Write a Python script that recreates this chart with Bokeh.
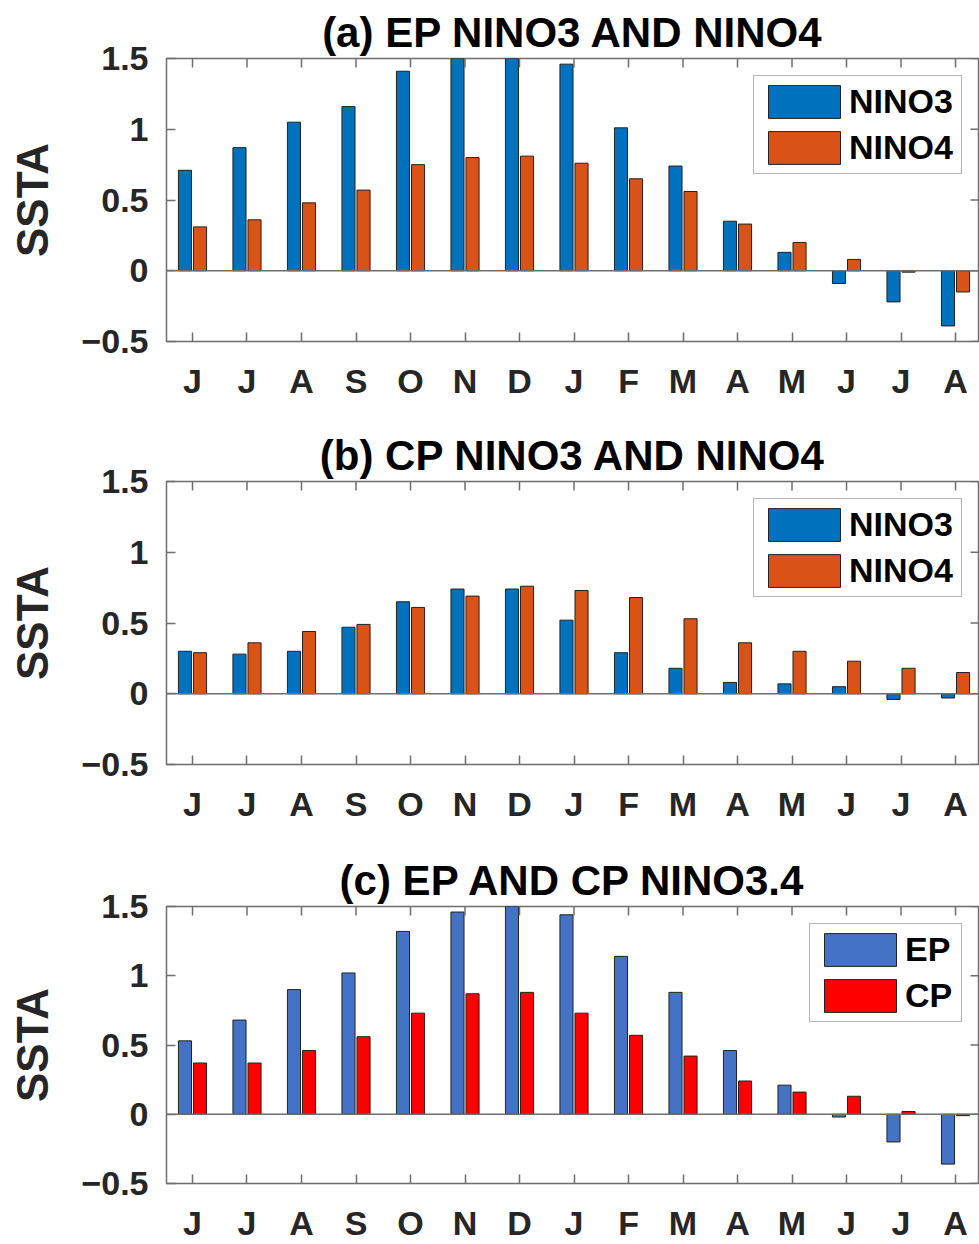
from bokeh.plotting import figure
from bokeh.models import Range1d, FixedTicker, Span
from bokeh.layouts import column
from bokeh.embed import file_html
from bokeh.resources import INLINE
import numpy as np

months = ["J", "J", "A", "S", "O", "N", "D", "J", "F", "M", "A", "M", "J", "J", "A"]
y_ticks = [-0.5, 0, 0.5, 1, 1.5]
y_tick_labels = ["\u22120.5", "0", "0.5", "1", "1.5"]

# (a) EP composite
ep_nino3 = [0.71, 0.87, 1.05, 1.16, 1.41, 1.53, 1.55, 1.46, 1.01, 0.74, 0.35, 0.13, -0.09, -0.22, -0.39]
ep_nino4 = [0.31, 0.36, 0.48, 0.57, 0.75, 0.80, 0.81, 0.76, 0.65, 0.56, 0.33, 0.20, 0.08, -0.01, -0.15]
# (b) CP composite
cp_nino3 = [0.30, 0.28, 0.30, 0.47, 0.65, 0.74, 0.74, 0.52, 0.29, 0.18, 0.08, 0.07, 0.05, -0.04, -0.03]
cp_nino4 = [0.29, 0.36, 0.44, 0.49, 0.61, 0.69, 0.76, 0.73, 0.68, 0.53, 0.36, 0.30, 0.23, 0.18, 0.15]
# (c) NINO3.4
ep_nino34 = [0.53, 0.68, 0.90, 1.02, 1.32, 1.46, 1.53, 1.44, 1.14, 0.88, 0.46, 0.21, -0.02, -0.20, -0.36]
cp_nino34 = [0.37, 0.37, 0.46, 0.56, 0.73, 0.87, 0.88, 0.73, 0.57, 0.42, 0.24, 0.16, 0.13, 0.02, -0.01]

FONT = "Liberation Sans"
AX = "#6e6e6e"
TXT = "#262626"
X_LIM = (0.523, 15.44)


def make_panel(title, s1, s2, names, colors, height, top, bottom, label_w):
    x = np.arange(1, len(months) + 1)
    p = figure(width=979, height=height, x_range=Range1d(*X_LIM),
               y_range=Range1d(min(y_ticks), max(y_ticks)),
               output_backend="svg", toolbar_location=None,
               min_border_left=166, min_border_right=0, min_border_top=top, min_border_bottom=bottom,
               title=title)
    p.title.text_font = FONT
    p.title.text_font_size = "42px"
    p.title.text_font_style = "bold"
    p.title.text_color = "black"
    p.title.align = "center"
    p.title.standoff = 6
    p.xgrid.visible = False
    p.ygrid.visible = False
    p.outline_line_color = AX
    p.outline_line_width = 1.5
    p.background_fill_color = "white"
    p.border_fill_color = "white"

    p.add_layout(Span(location=0, dimension="width", line_color=AX, line_width=1.5))

    p.vbar(x=x - 0.138, top=s1, width=0.24, bottom=0, fill_color=colors[0], line_color="#222222",
           line_width=1, legend_label=names[0])
    p.vbar(x=x + 0.138, top=s2, width=0.24, bottom=0, fill_color=colors[1], line_color="#222222",
           line_width=1, legend_label=names[1])

    # inward ticks on the top and right sides of the box
    p.ray(x=x, y=max(y_ticks), length=9, length_units="screen", angle=-np.pi / 2,
          line_color=AX, line_width=1.5)
    p.ray(x=X_LIM[1], y=y_ticks, length=9, length_units="screen", angle=np.pi,
          line_color=AX, line_width=1.5)

    xa = p.xaxis[0]
    xa.ticker = FixedTicker(ticks=list(x))
    xa.major_label_overrides = {int(i): m for i, m in zip(x, months)}
    ya = p.yaxis[0]
    ya.ticker = FixedTicker(ticks=y_ticks)
    ya.major_label_overrides = {t: l for t, l in zip(y_ticks, y_tick_labels)}
    ya.axis_label = "SSTA"
    ya.axis_label_text_font = FONT
    ya.axis_label_text_font_size = "44px"
    ya.axis_label_text_font_style = "bold"
    ya.axis_label_text_color = TXT
    ya.axis_label_standoff = 21

    for a in (xa, ya):
        a.axis_line_color = None
        a.major_tick_in = 9
        a.major_tick_out = 0
        a.major_tick_line_color = AX
        a.major_tick_line_width = 1.5
        a.minor_tick_line_color = None
        a.major_label_text_font = FONT
        a.major_label_text_font_style = "bold"
        a.major_label_text_color = TXT
    xa.major_label_text_font_size = "34px"
    xa.major_label_standoff = 20
    ya.major_label_text_font_size = "34px"
    ya.major_label_standoff = 18

    lg = p.legend[0]
    lg.location = "top_right"
    lg.margin = 17
    lg.padding = 5
    lg.spacing = 5
    lg.glyph_width = 90
    lg.glyph_height = 41
    lg.label_height = 41
    lg.label_width = label_w
    lg.label_standoff = -2
    lg.label_text_font = FONT
    lg.label_text_font_size = "34px"
    lg.label_text_font_style = "bold"
    lg.label_text_color = "black"
    lg.border_line_color = AX
    lg.border_line_width = 1.5
    lg.background_fill_alpha = 1
    return p


pa = make_panel("(a) EP NINO3 AND NINO4", ep_nino3, ep_nino4, ["NINO3", "NINO4"],
                ["#0072BD", "#D95319"], 416, 58, 75, 107)
pb = make_panel("(b) CP NINO3 AND NINO4", cp_nino3, cp_nino4, ["NINO3", "NINO4"],
                ["#0072BD", "#D95319"], 424, 65, 76, 107)
pc = make_panel("(c) EP AND CP NINO3.4", ep_nino34, cp_nino34, ["EP", "CP"],
                ["#4472C4", "#FF0000"], 404, 66, 55, 51)

layout = column(pa, pb, pc, spacing=0)
open("out.html", "w").write(file_html(layout, INLINE))
